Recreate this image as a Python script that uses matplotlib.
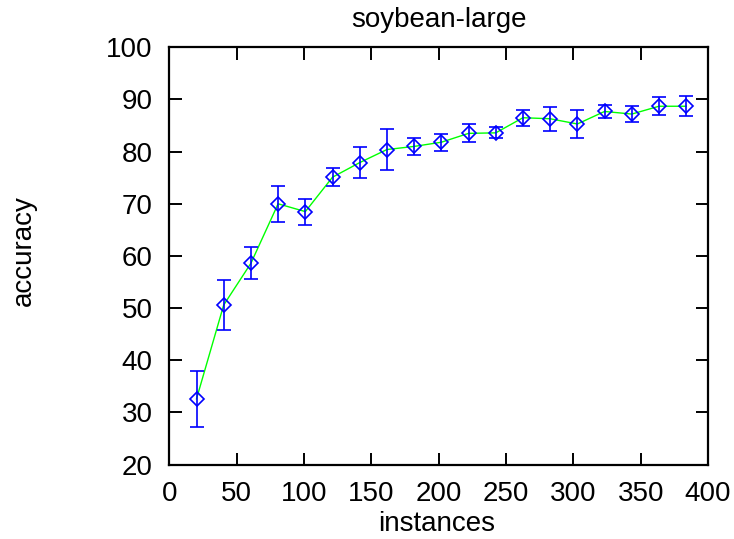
import matplotlib
matplotlib.use("Agg")
import matplotlib.pyplot as plt

instances = [20.2, 40.4, 60.6, 80.8, 101.0, 121.2, 141.4, 161.6, 181.8, 202.0,
             222.2, 242.4, 262.6, 282.8, 303.0, 323.2, 343.4, 363.6, 383.8]
accuracy = [32.6, 50.6, 58.6, 70.0, 68.5, 75.1, 77.9, 80.4, 81.0, 81.8,
            83.5, 83.6, 86.5, 86.3, 85.3, 87.7, 87.2, 88.7, 88.7]
err = [5.4, 4.85, 3.05, 3.4, 2.5, 1.7, 3.05, 3.85, 1.7, 1.6,
       1.75, 1.05, 1.5, 2.3, 2.7, 1.2, 1.55, 1.75, 1.95]

plt.rcParams['font.family'] = ['Liberation Sans', 'DejaVu Sans']

W, H = 734, 539
fig = plt.figure(figsize=(W / 100, H / 100), dpi=100)
ax = fig.add_axes([169.3 / W, 1 - 464.6 / H, 538.7 / W, 417.3 / H])

ax.plot(instances, accuracy, color='#00ff00', lw=1.0, zorder=2)
ax.errorbar(instances, accuracy, yerr=err, fmt='D', color='#0000ff',
            mfc='none', mec='#0000ff', ms=6.8, mew=1.2, elinewidth=1.2,
            capsize=4.7, capthick=1.2, zorder=3)

ax.set_xlim(0, 400)
ax.set_ylim(20, 100)
ax.set_xticks(range(0, 401, 50))
ax.set_yticks(range(20, 101, 10))
ax.tick_params(direction='in', length=9, width=1.4, top=True, right=True,
               labelsize=20, pad=12)
for s in ax.spines.values():
    s.set_linewidth(1.6)

fig.text(439 / W, 1 - 27 / H, 'soybean-large', fontsize=20,
         ha='center', va='baseline')
fig.text(437 / W, 1 - 531 / H, 'instances', fontsize=20,
         ha='center', va='baseline')
fig.text(24 / W, 1 - 251 / H, 'accuracy', fontsize=20, rotation=90,
         ha='center', va='center')

fig.savefig('out.png', dpi=100)
